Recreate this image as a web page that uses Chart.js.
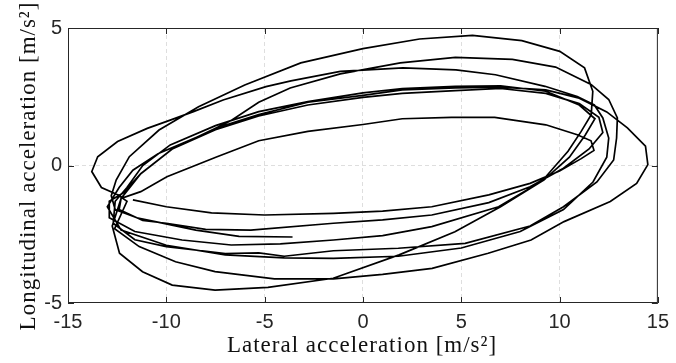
<!DOCTYPE html>
<html>
<head>
<meta charset="utf-8">
<script src="https://cdn.jsdelivr.net/npm/chart.js@4/dist/chart.umd.min.js"></script>
<style>
  html, body { margin: 0; padding: 0; background: #fff; }
  #wrap { width: 676px; height: 363px; position: relative; }
</style>
</head>
<body>
<div id="wrap"><canvas id="myChart"></canvas></div>
<script>
// lateral / longitudinal acceleration samples
const loop1 = [[-11.7,-1.25],[-10.0,-1.5],[-7.7,-1.72],[-5.0,-1.8],[-1.5,-1.74],[1.0,-1.66],[3.5,-1.5],[6.4,-1.07],[8.5,-0.65],[10.0,-0.2],[11.1,0.25],[11.75,0.55],[11.6,0.9],[10.9,1.12],[9.3,1.48],[6.7,1.75],[4.5,1.75],[2.0,1.7],[0,1.49],[-2.8,1.24],[-5.3,0.9],[-7.45,0.31],[-9.97,-0.41],[-11.3,-0.95],[-12.3,-1.2]];
const loop2 = [[-12.4,-1.6],[-11.2,-2.0],[-10.0,-2.1],[-8.0,-2.32],[-5.7,-2.35],[-1.5,-2.1],[1.0,-1.98],[3.5,-1.8],[6.4,-1.35],[8.5,-0.77],[10.2,-0.1],[11.5,0.6],[12.2,1.2],[12.0,1.75],[11.0,2.25],[9.3,2.62],[7.0,2.8],[4.7,2.72],[2.0,2.62],[0,2.48],[-2.8,2.2],[-5.3,1.8],[-7.5,1.3],[-9.7,0.6],[-11.3,-0.3],[-12.2,-1.0]];
const loop3 = [[-12.9,-1.3],[-12.9,-1.9],[-11.6,-2.4],[-9.2,-2.71],[-6.7,-2.89],[-4.2,-2.85],[-1.5,-2.71],[1.0,-2.55],[3.5,-2.22],[6.9,-1.5],[9.2,-0.53],[10.5,0.3],[11.3,1.1],[11.8,1.7],[11.0,2.2],[9.3,2.7],[7.0,2.9],[4.7,2.88],[2.0,2.8],[0,2.64],[-2.8,2.32],[-5.3,1.96],[-7.5,1.45],[-9.8,0.75],[-11.2,0.0],[-12.0,-0.8]];
const loop4 = [[-12.6,-1.3],[-12.7,-2.1],[-11.6,-2.7],[-10.0,-2.95],[-7.0,-3.2],[-5.3,-3.18],[-4.0,-3.3],[-1.5,-3.1],[1.8,-3.01],[5.2,-2.83],[8.5,-2.2],[10.2,-1.5],[11.9,-0.6],[12.75,0.2],[12.9,1.0],[12.94,1.73],[12.5,2.4],[11.6,2.95],[9.8,3.58],[7.6,3.86],[4.7,3.93],[1.9,3.73],[-1.15,3.33],[-3.7,2.82],[-5.3,2.3],[-6.7,1.64],[-8.4,1.04],[-10.4,0.44],[-11.7,-0.17],[-12.4,-0.8]];
const loop5 = [[-13.0,-1.5],[-12.3,-2.35],[-10.0,-2.9],[-7.0,-3.25],[-4.0,-3.36],[-1.5,-3.38],[1.8,-3.3],[5.0,-3.0],[8.0,-2.4],[10.2,-1.6],[11.7,-0.6],[12.4,0.3],[12.5,1.0],[12.2,1.73],[11.77,2.2],[10.9,2.51],[9.26,2.88],[6.74,3.3],[4.73,3.48],[2.04,3.55],[-1.15,3.42],[-3.66,3.08],[-4.93,2.87],[-7.11,2.38],[-8.62,1.96],[-9.8,1.65],[-10.97,1.35],[-12.48,0.87],[-13.49,0.32],[-13.79,-0.22],[-13.3,-0.8],[-12.5,-1.05]];
const loop6 = [[-12.0,-1.3],[-12.63,-2.3],[-11.38,-2.95],[-9.53,-3.5],[-7.52,-3.86],[-4.5,-4.12],[-1.5,-4.12],[1.0,-3.96],[3.52,-3.74],[6.37,-3.19],[8.55,-2.71],[10.23,-2.04],[12.58,-1.31],[13.92,-0.65],[14.49,0.03],[14.37,0.7],[13.45,1.37],[12.4,1.95],[11.0,2.45],[9.3,2.75],[7.0,2.85],[4.7,2.82],[2.0,2.75],[0,2.55],[-2.8,2.3],[-5.3,1.85],[-7.5,1.35],[-9.7,0.6],[-11.3,-0.3],[-12.3,-1.2]];
const loop7 = [[-12.75,-2.2],[-12.38,-3.19],[-11.21,-3.86],[-9.7,-4.35],[-7.52,-4.53],[-4.83,-4.43],[-1.51,-4.1],[1.84,-3.25],[4.68,-2.41],[7.0,-1.5],[9.09,-0.58],[10.43,0.52],[11.1,1.24],[11.61,1.85],[11.69,2.7],[11.27,3.55],[10.01,4.15],[8.08,4.54],[5.57,4.73],[2.88,4.6],[0,4.25],[-3.16,3.73],[-6.01,2.93],[-8.36,2.14],[-10.37,1.29],[-11.88,0.32],[-12.55,-0.53],[-12.8,-1.1]];
const tail = [[-12.6,-1.6],[-11.5,-1.9],[-10.5,-2.05],[-8.5,-2.35],[-6.3,-2.58],[-3.58,-2.6]];

const xTicks = [-15, -10, -5, 0, 5, 10, 15];
const yTicks = [-5, 0, 5];
const xTitle = 'Lateral acceleration [m/s\u00B2]';
const yTitle = 'Longitudinal acceleration [m/s\u00B2]';

let path = [...loop1, ...loop2, ...loop3, ...loop4, ...loop5, ...loop6, ...loop7, ...tail];
let pts = path.map(p => ({x: p[0], y: p[1]}));

const axisCol = '#262626';
const gridCol = '#dedede';

// matlab style box, inward ticks and latex-ish labels
const boxPlugin = {
  id: 'box',
  afterDraw(chart) {
    const ctx = chart.ctx;
    const a = chart.chartArea;
    const sx = chart.scales.x, sy = chart.scales.y;
    ctx.save();
    ctx.strokeStyle = axisCol;
    ctx.lineWidth = 1;
    ctx.strokeRect(a.left + 0.5, a.top + 0.5, a.right - a.left - 1, a.bottom - a.top - 1);
    ctx.beginPath();
    xTicks.forEach(v => {
      let px = Math.round(sx.getPixelForValue(v)) + 0.5;
      ctx.moveTo(px, a.bottom); ctx.lineTo(px, a.bottom - 6);
      ctx.moveTo(px, a.top); ctx.lineTo(px, a.top + 6);
    });
    yTicks.forEach(v => {
      let py = Math.round(sy.getPixelForValue(v)) + 0.5;
      ctx.moveTo(a.left, py); ctx.lineTo(a.left + 6, py);
      ctx.moveTo(a.right, py); ctx.lineTo(a.right - 6, py);
    });
    ctx.stroke();

    ctx.fillStyle = '#111';
    ctx.font = '23px "Liberation Serif", "Times New Roman", serif';
    ctx.letterSpacing = '1px';
    ctx.textAlign = 'center';
    ctx.textBaseline = 'alphabetic';
    ctx.fillText(xTitle, 362, 352);
    ctx.translate(35, 166);
    ctx.rotate(-Math.PI / 2);
    ctx.fillText(yTitle, 0, 0);
    ctx.restore();
  }
};

const ctx = document.getElementById('myChart').getContext('2d');
const myChart = new Chart(ctx, {
  type: 'scatter',
  data: {
    datasets: [{
      data: pts,
      showLine: true,
      borderColor: '#000',
      borderWidth: 1.7,
      pointRadius: 0,
      tension: 0,
      fill: false
    }]
  },
  options: {
    responsive: true,
    maintainAspectRatio: false,
    animation: false,
    layout: { padding: { top: 28, right: 12, left: 0, bottom: 0 } },
    plugins: { legend: { display: false }, tooltip: { enabled: false } },
    scales: {
      x: {
        type: 'linear', min: -15, max: 15,
        afterFit: s => { s.height = 60; },
        afterBuildTicks: s => { s.ticks = xTicks.map(v => ({value: v})); },
        ticks: { color: axisCol, padding: 7, font: { family: '"Liberation Sans", Arial, sans-serif', size: 20 } },
        grid: {
          drawTicks: false,
          color: c => (c.tick && Math.abs(c.tick.value) === 15) ? 'rgba(0,0,0,0)' : gridCol,
          lineWidth: 1
        },
        border: { display: false, dash: [4, 3] }
      },
      y: {
        type: 'linear', min: -5, max: 5,
        afterFit: s => { s.width = 68; },
        afterBuildTicks: s => { s.ticks = yTicks.map(v => ({value: v})); },
        ticks: { color: axisCol, padding: 6, font: { family: '"Liberation Sans", Arial, sans-serif', size: 20 } },
        grid: {
          drawTicks: false,
          color: c => (c.tick && Math.abs(c.tick.value) === 5) ? 'rgba(0,0,0,0)' : gridCol,
          lineWidth: 1
        },
        border: { display: false, dash: [4, 3] }
      }
    }
  },
  plugins: [boxPlugin]
});
</script>
</body>
</html>
